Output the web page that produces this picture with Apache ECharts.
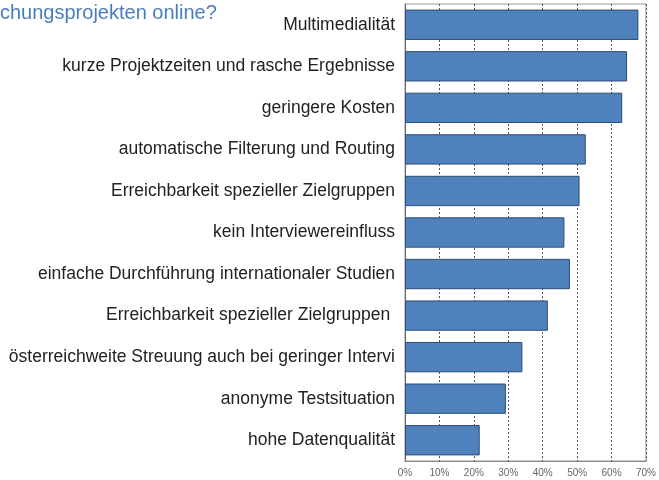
<!DOCTYPE html>
<html>
<head>
<meta charset="utf-8">
<script src="https://cdn.jsdelivr.net/npm/echarts@6/dist/echarts.min.js"></script>
<style>
  html, body { margin: 0; padding: 0; background: #fff; }
  #chart { width: 659px; height: 480px; }
</style>
</head>
<body>
<div id="chart"></div>
<script>
// Kategorien (von oben nach unten)
var categories = [
  "Multimedialität",
  "kurze Projektzeiten und rasche Ergebnisse",
  "geringere Kosten",
  "automatische Filterung und Routing",
  "Erreichbarkeit spezieller Zielgruppen",
  "kein Interviewereinfluss",
  "einfache Durchführung internationaler Studien",
  "Erreichbarkeit spezieller Zielgruppen ",
  "österreichweite Streuung auch bei geringer Intervi",
  "anonyme Testsituation",
  "hohe Datenqualität"
];
// Anteil in %
var values = [67.8, 64.5, 63.1, 52.5, 50.7, 46.3, 47.9, 41.5, 34.1, 29.3, 21.7];
var tickLabels = ["0%", "10%", "20%", "30%", "40%", "50%", "60%", "70%"];
var titleText = "chungsprojekten online?";

var chart = echarts.init(document.getElementById("chart"));
chart.setOption({
  animation: false,
  title: {
    text: titleText,
    left: 0,
    top: 3,
    padding: 0,
    textStyle: { color: "#4a7ebb", fontSize: 20, fontWeight: "normal", fontFamily: "Liberation Sans" }
  },
  grid: {
    left: 405, right: 10, top: 4, bottom: 19,
    show: true, borderColor: "#999", borderWidth: 1
  },
  xAxis: {
    type: "value",
    min: 0, max: 70, interval: 10,
    axisLine: { show: true, lineStyle: { color: "#888" } },
    axisTick: { show: false },
    axisLabel: {
      color: "#666", fontSize: 10, fontFamily: "Liberation Sans", margin: 7,
      formatter: function (v) { return tickLabels[Math.round(v / 10)]; }
    },
    splitLine: { show: true, lineStyle: { color: "#555", type: [2, 2], width: 1 } }
  },
  yAxis: {
    type: "category",
    inverse: true,
    data: categories,
    axisLine: { show: true, lineStyle: { color: "#666" } },
    axisTick: { show: false },
    axisLabel: { color: "#222", fontSize: 17.5, fontFamily: "Liberation Sans", margin: 10 }
  },
  series: [{
    type: "bar",
    data: values,
    barCategoryGap: "27%",
    itemStyle: { color: "#4f81bd", borderColor: "#2c4d75", borderWidth: 1 }
  }]
});
</script>
</body>
</html>
